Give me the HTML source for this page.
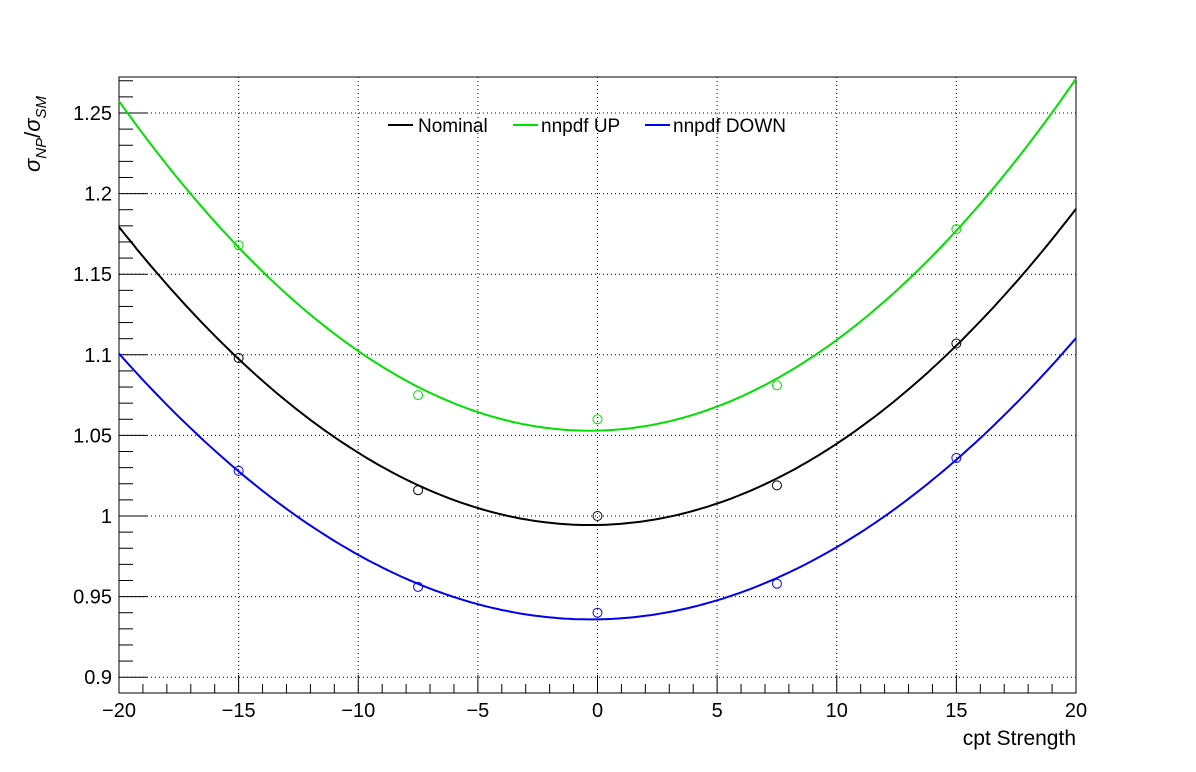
<!DOCTYPE html>
<html><head><meta charset="utf-8"><style>
body{margin:0;background:#fff;}
svg{display:block;font-family:"Liberation Sans",sans-serif;}
</style></head><body>
<svg id="chart" width="1196" height="772" xmlns="http://www.w3.org/2000/svg">
<rect width="1196" height="772" fill="#fff"/>
<g id="grid"></g>
<g id="axes"></g>
<g id="series"></g>
<g>
 <line x1="388" y1="125" x2="413" y2="125" stroke="#000" stroke-width="2"/>
 <text x="418" y="132" font-size="19">Nominal</text>
 <line x1="513" y1="125" x2="538" y2="125" stroke="#00e000" stroke-width="2"/>
 <text x="541" y="132" font-size="19">nnpdf UP</text>
 <line x1="645" y1="125" x2="670" y2="125" stroke="#0000f0" stroke-width="2"/>
 <text x="673" y="132" font-size="19">nnpdf DOWN</text>
</g>
<text x="1076" y="745" font-size="21" text-anchor="end">cpt Strength</text>
<text transform="translate(40,172) rotate(-90)" font-size="22"><tspan font-style="italic">σ</tspan><tspan font-size="15" dy="6" font-style="italic">NP</tspan><tspan dy="-6">/</tspan><tspan font-style="italic">σ</tspan><tspan font-size="15" dy="6" font-style="italic">SM</tspan></text>
</svg>
<script>
const xValues=[-15,-7.5,0,7.5,15];
const nominal=[1.098,1.016,1.000,1.019,1.107];
const nnpdfUp=[1.168,1.075,1.060,1.081,1.178];
const nnpdfDown=[1.028,0.956,0.940,0.958,1.036];
const xTicks=[-20,-15,-10,-5,0,5,10,15,20];
const xTickLabels=["−20","−15","−10","−5","0","5","10","15","20"];
const yTicks=[0.9,0.95,1,1.05,1.1,1.15,1.2,1.25];
const yTickLabels=["0.9","0.95","1","1.05","1.1","1.15","1.2","1.25"];

const L=119,R=1076,T=77,B=693,xmin=-20,xmax=20;
const ymin=1-(B-516)/1612, ymax=1+(516-T)/1612;
const X=v=>L+(v-xmin)/(xmax-xmin)*(R-L);
const Y=v=>B-(v-ymin)/(ymax-ymin)*(B-T);
const NS="http://www.w3.org/2000/svg";
function mk(tag,attrs,parent){const e=document.createElementNS(NS,tag);for(const k in attrs)e.setAttribute(k,attrs[k]);parent.appendChild(e);return e;}
const grid=document.getElementById('grid'),axes=document.getElementById('axes'),series=document.getElementById('series');

xTicks.forEach((v,i)=>{
 if(v>xmin&&v<xmax){const g=mk('line',{x1:X(v),x2:X(v),y1:T,y2:B,stroke:'#000','stroke-dasharray':'1,3','stroke-width':1},grid);
 
 }
 const t=mk('text',{x:X(v),y:717,'font-size':20,'text-anchor':'middle'},axes);t.textContent=xTickLabels[i];
 
 
});
yTicks.forEach((v,i)=>{
 const g=mk('line',{x1:L,x2:R,y1:Y(v),y2:Y(v),stroke:'#000','stroke-dasharray':'1,3','stroke-width':1},grid);
 
 
 const t=mk('text',{x:112,y:Y(v)+7,'font-size':20,'text-anchor':'end'},axes);t.textContent=yTickLabels[i];
 
 
});
for(let v=xmin;v<=xmax;v+=1){const maj=v%5===0;mk('line',{x1:X(v),x2:X(v),y1:B,y2:B-(maj?18:9),stroke:'#000'},axes);}
for(let k=Math.ceil(ymin*100);k<=Math.floor(ymax*100);k++){const v=k/100;const maj=k%5===0;mk('line',{x1:L,x2:L+(maj?28:14),y1:Y(v),y2:Y(v),stroke:'#000'},axes);}
const fr=mk('rect',{x:L,y:T,width:R-L,height:B-T,fill:'none',stroke:'#000','stroke-width':1},axes);



function fit(xs,ys){ // quadratic least squares
 let S=[0,0,0,0,0],Sy=[0,0,0];
 xs.forEach((x,i)=>{for(let p=0;p<5;p++)S[p]+=x**p;for(let p=0;p<3;p++)Sy[p]+=ys[i]*x**p;});
 const A=[[S[0],S[1],S[2],Sy[0]],[S[1],S[2],S[3],Sy[1]],[S[2],S[3],S[4],Sy[2]]];
 for(let i=0;i<3;i++){for(let j=i+1;j<3;j++){const f=A[j][i]/A[i][i];for(let k=i;k<4;k++)A[j][k]-=f*A[i][k];}}
 const c=[0,0,0];for(let i=2;i>=0;i--){let s=A[i][3];for(let k=i+1;k<3;k++)s-=A[i][k]*c[k];c[i]=s/A[i][i];}
 return c;
}
[[nominal,'#000','nominal'],[nnpdfUp,'#00e000','nnpdf-up'],[nnpdfDown,'#0000f0','nnpdf-down']].forEach(([ys,col,nm])=>{
 const c=fit(xValues,ys);let d='';
 for(let i=0;i<=200;i++){const x=xmin+i*(xmax-xmin)/200;const y=c[0]+c[1]*x+c[2]*x*x;d+=(i?'L':'M')+X(x).toFixed(1)+','+Y(y).toFixed(1);}
 const p=mk('path',{d:d,fill:'none',stroke:col,'stroke-width':2},series);
 
 
 xValues.forEach((x,i)=>{
  const m=mk('circle',{cx:X(x),cy:Y(ys[i]),r:4.5,fill:'none',stroke:col,'stroke-width':1},series);
  
  
 });
});
</script>
</body></html>
